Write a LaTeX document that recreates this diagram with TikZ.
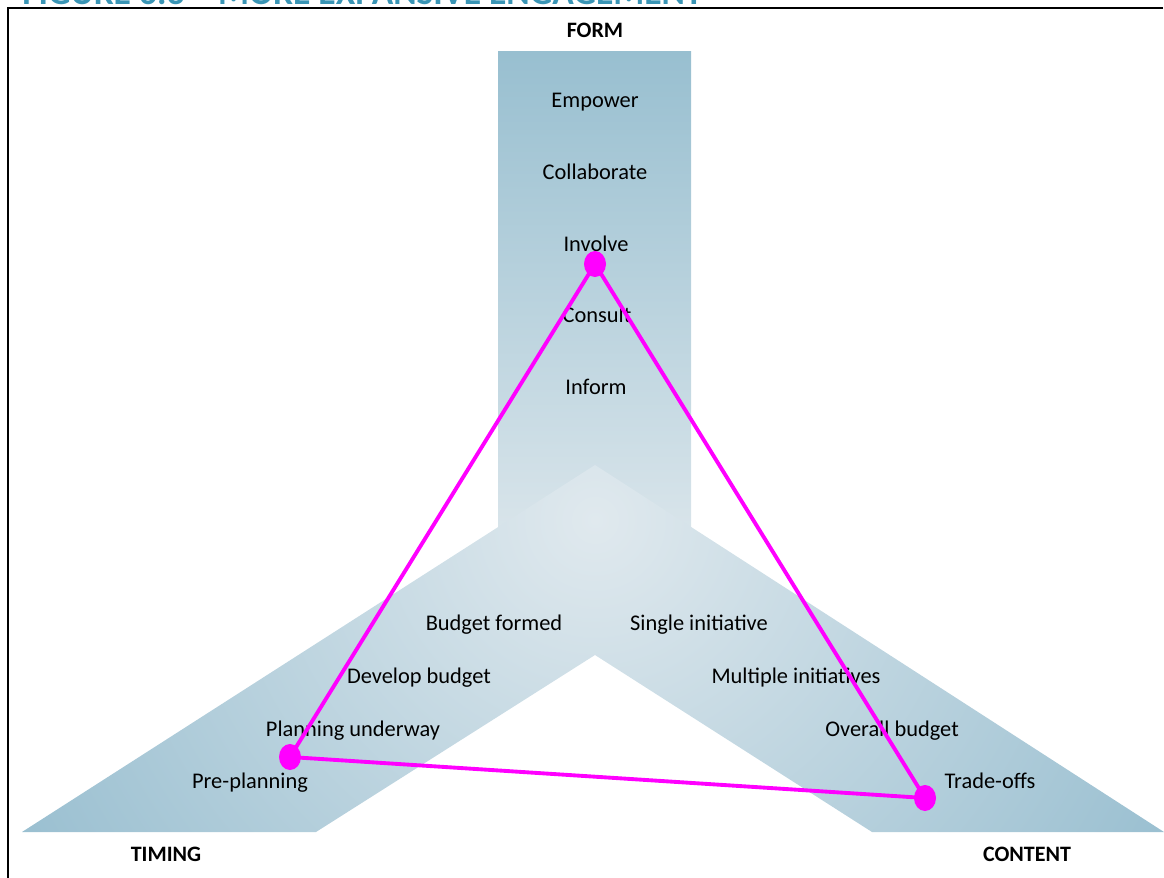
\documentclass[tikz,border=0pt]{standalone}
\usepackage{fontspec}
\setmainfont{Carlito}
\usetikzlibrary{shapes.geometric}

\definecolor{bandtop}{HTML}{98BFD0}
\definecolor{bandbot}{HTML}{D8E4EA}
\definecolor{vlight}{HTML}{E0E9EE}
\definecolor{vdark}{HTML}{96BDCF}
\definecolor{titleteal}{HTML}{3A95B5}
\definecolor{mark}{HTML}{FF00FF}

\tikzset{
  lab/.style={anchor=base, inner sep=0pt, font=\fontsize{16.8}{20}\selectfont},
  axislab/.style={anchor=base, inner sep=0pt, font=\fontsize{16.5}{20}\selectfont\bfseries},
  dot/.style={ellipse, fill=mark, draw=none, inner sep=0pt,
              minimum width=16.5pt, minimum height=19.5pt},
  markline/.style={draw=mark, line width=2.9pt},
  frame/.style={draw=black, line width=1.6pt},
}

\begin{document}
\begin{tikzpicture}[x=0.75pt, y=-0.75pt]
\useasboundingbox (0,0) rectangle (1164,878);

% heading, trimmed at the top edge
\begin{scope}
  \clip (0,0) rectangle (1164,878);
  \node[anchor=base west, inner sep=0pt, text=titleteal,
        font=\fontsize{26.6}{30}\selectfont\bfseries] (heading) at (22,4)
        {FIGURE 6.3 – MORE EXPANSIVE ENGAGEMENT};
\end{scope}

% outer frame
\draw[frame] (1163,8) -- (8,8) -- (8,878);

% vertical band (form)
\shade[top color=bandtop, bottom color=bandbot] (498,51) rectangle (691,527);

% V-shaped band (timing / content)
\begin{scope}
  \clip (595,465) -- (1164,832) -- (872,832) -- (595,655)
        -- (316,832) -- (22,832) -- cycle;
  \shade[inner color=vlight, outer color=vdark] (595,520) circle (690);
\end{scope}

% axis titles
\node[axislab] (form) at (595,37) {FORM};
\node[axislab] (timing) at (166,861) {TIMING};
\node[axislab] (content) at (1027,861) {CONTENT};

% form levels
\node[lab] (empower) at (595,107) {Empower};
\node[lab] (collab) at (595,179) {Collaborate};
\node[lab] (involve) at (596,251) {Involve};
\node[lab] (consult) at (597,322) {Consult};
\node[lab] (inform) at (596,394) {Inform};

% timing levels
\node[lab] (formed) at (494,630) {Budget formed};
\node[lab] (develop) at (419,683) {Develop budget};
\node[lab] (underway) at (353,736) {Planning underway};
\node[lab] (preplan) at (250,788) {Pre-planning};

% content levels
\node[lab] (single) at (699,630) {Single initiative};
\node[lab] (multiple) at (796,683) {Multiple initiatives};
\node[lab] (overall) at (892,736) {Overall budget};
\node[lab] (tradeoffs) at (990,788) {Trade-offs};

% engagement profile
\node[dot] (pf) at (595,264) {};
\node[dot] (pt) at (290,757) {};
\node[dot] (pc) at (925,798) {};
\draw[markline] (pf.center) -- (pt.center) -- (pc.center) -- cycle;
\end{tikzpicture}
\end{document}
